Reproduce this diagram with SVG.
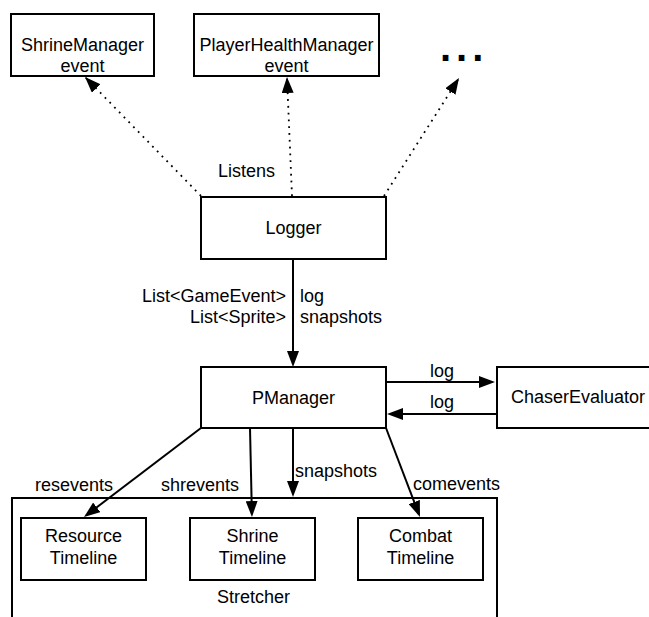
<svg xmlns="http://www.w3.org/2000/svg" width="649" height="617" viewBox="0 0 649 617">
<style>
.box{fill:#fff;stroke:#000;stroke-width:2}
.t{font-family:"Liberation Sans",Arial,sans-serif;font-size:18px;fill:#000}
.m{text-anchor:middle}
.e{text-anchor:end}
.sol{stroke:#000;stroke-width:2;fill:none;marker-end:url(#ah)}
.dot{stroke:#000;stroke-width:1.8;fill:none;stroke-dasharray:1.8 5;marker-end:url(#ahd)}
</style>
<defs>
<marker id="ah" viewBox="0 0 16 12" refX="13" refY="6" markerWidth="16" markerHeight="12" markerUnits="userSpaceOnUse" orient="auto">
<path d="M0,0 L16,6 L0,12 z" fill="#000"/>
</marker>
<marker id="ahd" viewBox="0 0 16 12" refX="16" refY="6" markerWidth="16" markerHeight="12" markerUnits="userSpaceOnUse" orient="auto">
<path d="M0,0 L16,6 L0,12 z" fill="#000"/>
</marker>
</defs>
<rect width="649" height="617" fill="#fff"/>

<g id="stretcher">
<rect class="box" x="12" y="498" width="485" height="140"/>
<text class="t m" x="253.5" y="603">Stretcher</text>
</g>

<g id="shrineManager">
<rect class="box" x="11" y="14" width="143" height="62"/>
<text class="t m" x="82.5" y="51">ShrineManager</text>
<text class="t m" x="82.5" y="72">event</text>
</g>
<g id="playerHealthManager">
<rect class="box" x="194" y="14" width="185" height="62"/>
<text class="t m" x="286.5" y="51">PlayerHealthManager</text>
<text class="t m" x="286.5" y="72">event</text>
</g>
<g id="more">
<text class="t" x="440" y="61" style="font-size:40px;font-weight:bold;letter-spacing:5px">...</text>
</g>
<g id="logger">
<rect class="box" x="201" y="197" width="185" height="62"/>
<text class="t m" x="293.5" y="234">Logger</text>
</g>
<g id="pmanager">
<rect class="box" x="201" y="367" width="185" height="61"/>
<text class="t m" x="293.5" y="404">PManager</text>
</g>
<g id="chaserEvaluator">
<rect class="box" x="497" y="367" width="160" height="61"/>
<text class="t" x="511" y="403">ChaserEvaluator</text>
</g>
<g id="resourceTimeline">
<rect class="box" x="21" y="518" width="125" height="62"/>
<text class="t m" x="83.5" y="542">Resource</text>
<text class="t m" x="83.5" y="564">Timeline</text>
</g>
<g id="shrineTimeline">
<rect class="box" x="190" y="518" width="125" height="62"/>
<text class="t m" x="252.5" y="542">Shrine</text>
<text class="t m" x="252.5" y="564">Timeline</text>
</g>
<g id="combatTimeline">
<rect class="box" x="358" y="518" width="125" height="62"/>
<text class="t m" x="420.5" y="542">Combat</text>
<text class="t m" x="420.5" y="564">Timeline</text>
</g>

<g id="connectors">
<line class="dot" x1="201" y1="196" x2="85" y2="77"/>
<line class="dot" x1="292" y1="196" x2="287" y2="77"/>
<line class="dot" x1="384" y1="196" x2="459" y2="78"/>
<text class="t" x="218" y="177">Listens</text>

<line class="sol" x1="293" y1="259" x2="293" y2="364"/>
<text class="t e" x="286" y="302">List&lt;GameEvent&gt;</text>
<text class="t e" x="286" y="323">List&lt;Sprite&gt;</text>
<text class="t" x="300" y="302">log</text>
<text class="t" x="300" y="323">snapshots</text>

<line class="sol" x1="386" y1="382" x2="492" y2="382"/>
<text class="t" x="430" y="377">log</text>
<line class="sol" x1="497" y1="414" x2="390" y2="414"/>
<text class="t" x="430" y="408">log</text>

<line class="sol" x1="201" y1="428" x2="86.4" y2="515.2"/>
<text class="t" x="35" y="491">resevents</text>
<line class="sol" x1="250" y1="428" x2="251.9" y2="514"/>
<text class="t" x="161" y="491">shrevents</text>
<line class="sol" x1="293" y1="428" x2="293" y2="494"/>
<text class="t" x="295" y="477">snapshots</text>
<line class="sol" x1="386" y1="428" x2="418.9" y2="514.2"/>
<text class="t" x="413" y="490">comevents</text>
</g>
</svg>
